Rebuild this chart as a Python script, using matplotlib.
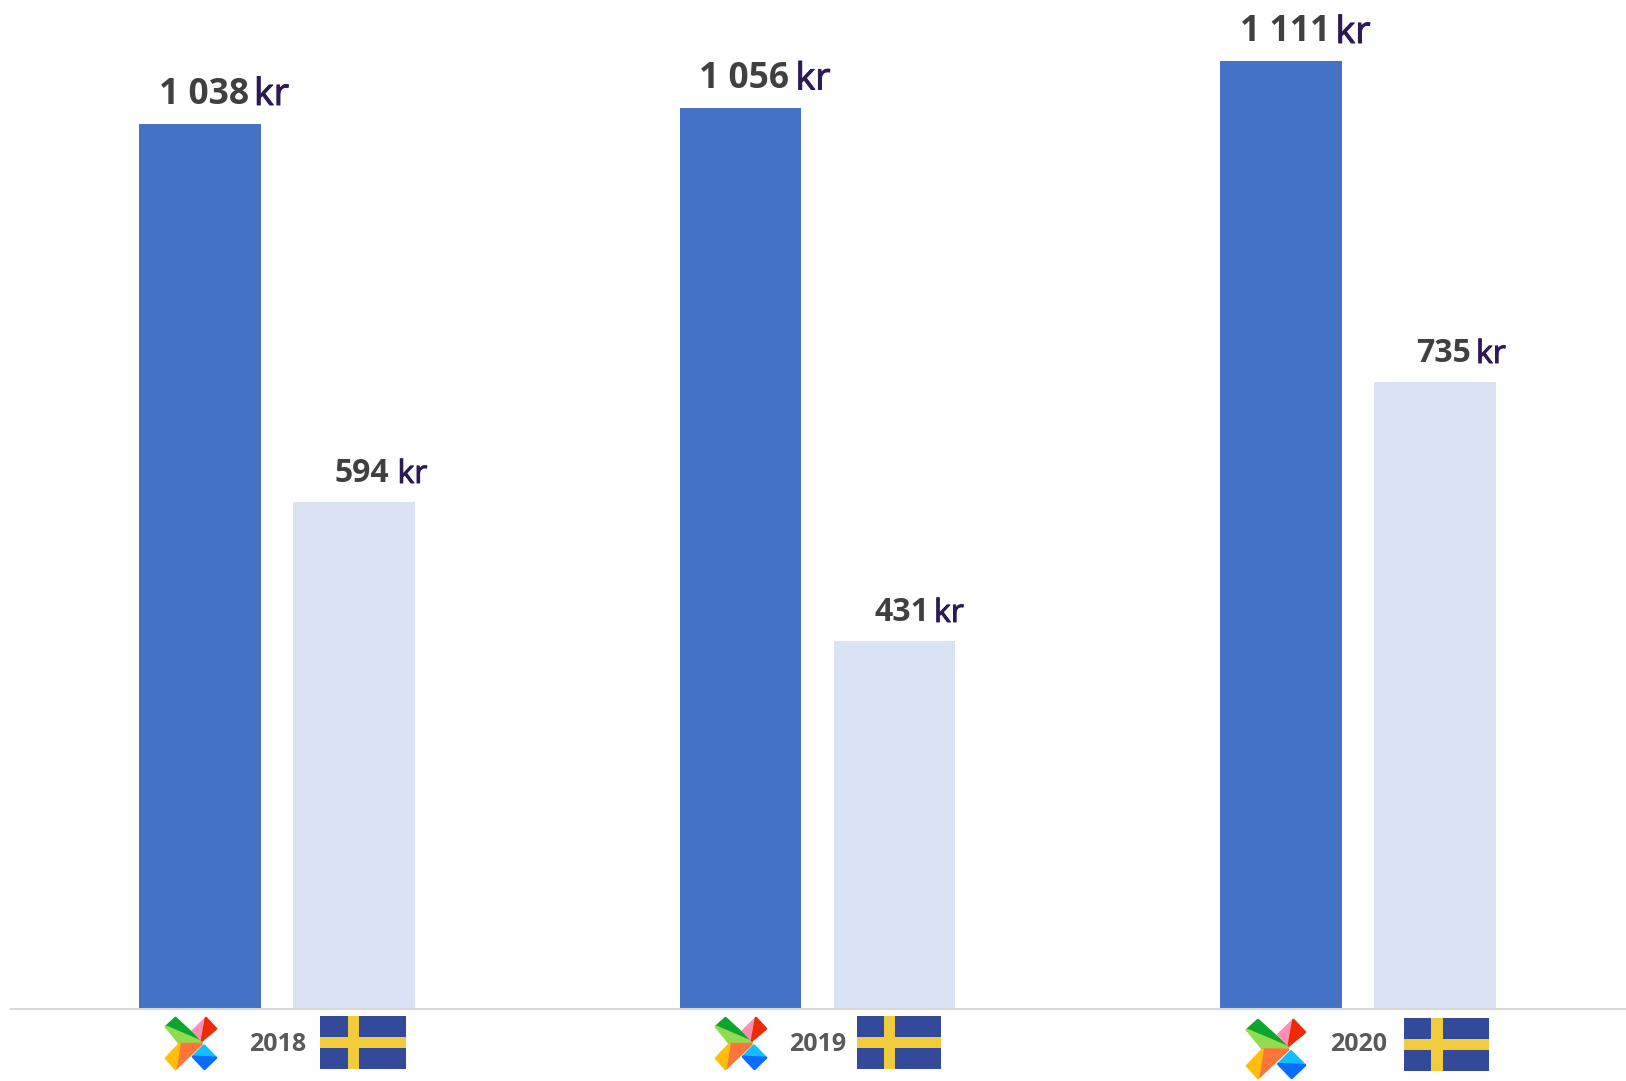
import matplotlib
matplotlib.use("Agg")
import matplotlib.pyplot as plt
import matplotlib.patheffects as pe
from matplotlib.patches import Polygon, Rectangle

years = ["2018", "2019", "2020"]
se_x = [1038, 1056, 1111]
se_y = [594, 431, 735]
se_x_labels = ["1 038", "1 056", "1 111"]
se_y_labels = ["594", "431", "735"]

W, H = 1626, 1081
BASE = 1008
PX_PER_UNIT = 0.852
GROUP = 540.5
C0 = 276.8
LEFT = 10

fig = plt.figure(figsize=(W / 100, H / 100), dpi=100, facecolor="white")
ax = fig.add_axes([LEFT / W, (H - BASE) / H, (W - LEFT) / W, BASE / H])
ax.set_xlim((LEFT - C0) / GROUP, (W - C0) / GROUP)
ax.set_ylim(0, BASE / PX_PER_UNIT)
ax.axis("off")
ax.patch.set_alpha(0)
bw = 121.5 / GROUP
off = 77.0 / GROUP
xs = list(range(len(years)))
ax.bar([x - off for x in xs], se_x, bw, color="#4472C4", zorder=2)
ax.bar([x + off for x in xs], se_y, bw, color="#DAE3F3", zorder=2)

ov = fig.add_axes([0, 0, 1, 1], zorder=5)
ov.set_xlim(0, W)
ov.set_ylim(H, 0)
ov.axis("off")
ov.patch.set_alpha(0)
ov.plot([LEFT, W], [BASE + 1, BASE + 1], color="#D9D9D9", lw=1.5, solid_capstyle="butt")

NUM = "#404040"
KR = "#2D1A55"
FONT = "Open Sans"


def label(xn, xk, yn, yk, s, size_n, size_k):
    ov.text(xn, yn, s, fontsize=size_n, fontweight="bold", color=NUM, family=FONT, va="baseline", ha="left")
    t = ov.text(xk, yk, "kr", fontsize=size_k, color=KR, family=FONT, va="baseline", ha="left")
    t.set_path_effects([pe.withStroke(linewidth=0.7, foreground=KR)])


label(158.5, 254, 103.5, 105, se_x_labels[0], 25.5, 27)
label(699, 795.5, 87.5, 89.5, se_x_labels[1], 25.5, 27)
label(1240, 1335.5, 41, 43, se_x_labels[2], 25.5, 27)
label(334.5, 397.5, 482, 483, se_y_labels[0], 23, 23)
label(874, 934, 621, 622, se_y_labels[1], 23, 23)
label(1416, 1476, 362, 363, se_y_labels[2], 23, 23)

logo_parts = [
    ([(.19, 0), (0, .17), (.71, .47)], "#0CA52D"),
    ([(0, .17), (.71, .47), (.27, .50)], "#92DB4F"),
    ([(.80, 0), (.54, .25), (.72, .44)], "#FF8DB4"),
    ([(.80, 0), (1, .21), (.72, .44)], "#EE2A00"),
    ([(.27, .51), (.71, .51), (.19, 1)], "#FF7538"),
    ([(.27, .51), (0, .79), (.19, 1)], "#FFBE0B"),
    ([(.76, .54), (.54, .76), (1, .78)], "#12BEFF"),
    ([(.54, .76), (1, .78), (.77, 1)], "#0A6CFF"),
]


def logo(x0, y0, w, h):
    for pts, c in logo_parts:
        ov.add_patch(Polygon([(x0 + a * w, y0 + b * h) for a, b in pts], closed=True, fc=c, ec=c, lw=1.8, joinstyle="round"))


def flag(x0, y0, w, h):
    ov.add_patch(Rectangle((x0, y0), w, h, fc="#33499A", ec="none"))
    ov.add_patch(Rectangle((x0 + .32 * w, y0), .135 * w, h, fc="#F0CB3C", ec="none"))
    ov.add_patch(Rectangle((x0, y0 + .40 * h), w, .20 * h, fc="#F0CB3C", ec="none"))


logo(166, 1018, 50, 51)
logo(716, 1018, 50, 51)
logo(1247, 1020, 58, 58)
flag(320, 1016, 86, 53)
flag(857, 1016, 84, 53)
flag(1404, 1018, 85, 53)

for x, y, t in zip([278, 817.5, 1358.5], [1044.5, 1044.5, 1044.5], years):
    ov.text(x, y, t, fontsize=18, fontweight="bold", color="#595959", family=FONT, ha="center", va="center")

fig.savefig("out.png", dpi=100, facecolor="white")
